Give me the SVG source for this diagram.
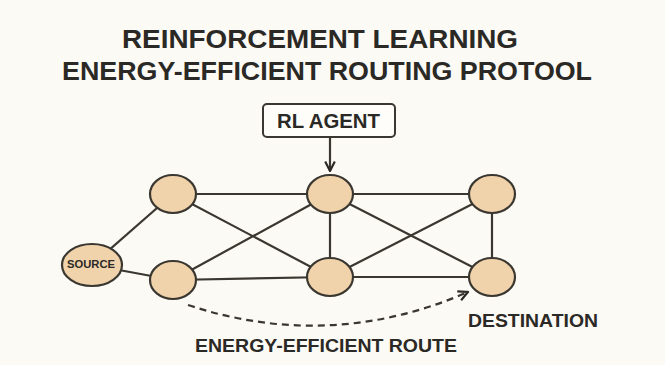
<svg xmlns="http://www.w3.org/2000/svg" width="665" height="365" viewBox="0 0 665 365">
<defs>
<style>
.bg{fill:#fcfaf4}
.node{fill:#f1d3ab;stroke:#3a3630;stroke-width:2.2}
.edge{stroke:#3a3630;stroke-width:2.2;fill:none}
.title{font-family:"Liberation Sans",Arial,sans-serif;font-weight:bold;font-size:25px;fill:#2b2926;text-anchor:middle}
.lbl{font-family:"Liberation Sans",Arial,sans-serif;font-weight:bold;fill:#2b2926;text-anchor:middle}
</style>
<marker id="ah2" viewBox="0 0 10 10" refX="9" refY="5" markerWidth="12" markerHeight="12" orient="auto" markerUnits="userSpaceOnUse">
<path d="M1,1 L9,5 L1,9" fill="none" stroke="#2b2926" stroke-width="1.8"/>
</marker>
</defs>
<rect class="bg" x="0" y="0" width="665" height="365"/>
<text class="title" x="320" y="48" textLength="396" lengthAdjust="spacingAndGlyphs">REINFORCEMENT LEARNING</text>
<text class="title" x="327" y="80" textLength="530" lengthAdjust="spacingAndGlyphs">ENERGY-EFFICIENT ROUTING PROTOOL</text>
<g id="connectors">
<line class="edge" x1="92" y1="265" x2="173" y2="194"/>
<line class="edge" x1="92" y1="265" x2="173" y2="280"/>
<line class="edge" x1="173" y1="194" x2="330" y2="194"/>
<line class="edge" x1="173" y1="194" x2="330" y2="277"/>
<line class="edge" x1="173" y1="280" x2="330" y2="194"/>
<line class="edge" x1="173" y1="280" x2="330" y2="277"/>
<line class="edge" x1="330" y1="194" x2="492" y2="194"/>
<line class="edge" x1="330" y1="194" x2="330" y2="277"/>
<line class="edge" x1="330" y1="194" x2="492" y2="277"/>
<line class="edge" x1="330" y1="277" x2="492" y2="194"/>
<line class="edge" x1="330" y1="277" x2="492" y2="277"/>
<line class="edge" x1="492" y1="194" x2="492" y2="277"/>
<line class="edge" x1="330" y1="137" x2="330" y2="171" marker-end="url(#ah2)"/>
<path class="edge" d="M188,305 Q330,352 468,292" stroke-dasharray="7,5" stroke-width="2" marker-end="url(#ah2)"/>
</g>
<g id="rl-agent">
<rect x="263" y="104" width="132" height="33" rx="4" fill="#fefdf9" stroke="#3a3630" stroke-width="2"/>
<text class="lbl" x="328.5" y="128" font-size="20" textLength="103" lengthAdjust="spacingAndGlyphs">RL AGENT</text>
</g>
<g id="source">
<ellipse class="node" cx="92" cy="265" rx="30" ry="21"/>
<text class="lbl" x="91" y="268" font-size="11.5" textLength="48" lengthAdjust="spacingAndGlyphs">SOURCE</text>
</g>
<g id="n1"><ellipse class="node" cx="173" cy="194" rx="23" ry="19"/></g>
<g id="n2"><ellipse class="node" cx="173" cy="280" rx="23" ry="19"/></g>
<g id="n3"><ellipse class="node" cx="330" cy="194" rx="23" ry="19"/></g>
<g id="n4"><ellipse class="node" cx="330" cy="277" rx="23" ry="19"/></g>
<g id="n5"><ellipse class="node" cx="492" cy="194" rx="23" ry="19"/></g>
<g id="destination">
<ellipse class="node" cx="492" cy="277" rx="23" ry="19"/>
<text class="lbl" x="533" y="327" font-size="18" textLength="130" lengthAdjust="spacingAndGlyphs">DESTINATION</text>
</g>
<text class="lbl" x="326" y="352" font-size="18" textLength="262" lengthAdjust="spacingAndGlyphs">ENERGY-EFFICIENT ROUTE</text>
</svg>
